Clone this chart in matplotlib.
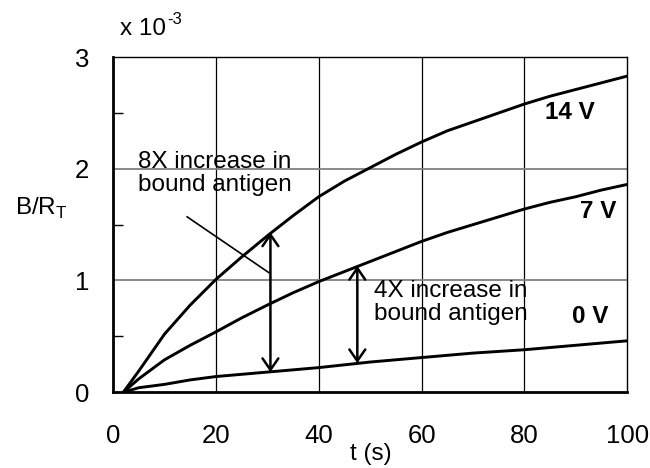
import matplotlib
matplotlib.use("Agg")
import matplotlib.pyplot as plt
from matplotlib.ticker import MultipleLocator

plt.rcParams['font.family'] = ['Liberation Sans', 'DejaVu Sans']

# values (B/R_T in units of 1e-3)
t = [2, 5, 10, 15, 20, 25, 30, 35, 40, 45, 50, 55, 60, 65, 70, 75, 80, 85, 90, 95, 100]
b_14v = [0, 0.19, 0.52, 0.78, 1.01, 1.21, 1.40, 1.58, 1.75, 1.89, 2.01, 2.13, 2.24,
         2.34, 2.42, 2.50, 2.58, 2.65, 2.71, 2.77, 2.83]
b_7v = [0, 0.12, 0.29, 0.42, 0.54, 0.665, 0.78, 0.89, 0.99, 1.08, 1.17, 1.26, 1.35,
        1.43, 1.50, 1.57, 1.64, 1.70, 1.75, 1.81, 1.86]
b_0v = [0, 0.04, 0.07, 0.11, 0.14, 0.16, 0.18, 0.20, 0.22, 0.245, 0.27, 0.29, 0.31,
        0.33, 0.35, 0.365, 0.38, 0.40, 0.42, 0.44, 0.46]

x_ticks = [0, 20, 40, 60, 80, 100]
y_ticks = [0, 1, 2, 3]

fig = plt.figure(figsize=(6.5, 4.68), dpi=100)
ax = fig.add_axes([0.174, 0.162, 0.791, 0.716])

ax.set_xlim(0, 100)
ax.set_ylim(0, 3)
ax.set_xticks(x_ticks)
ax.set_yticks(y_ticks)
ax.yaxis.set_minor_locator(MultipleLocator(0.5))
ax.tick_params(axis='x', which='major', labelsize=18.5, length=0, pad=23)
ax.tick_params(axis='y', which='major', labelsize=18.5, length=0, pad=17)
ax.tick_params(axis='y', which='minor', direction='in', length=7, width=1)

# grid: vertical black, horizontal gray
for xv in x_ticks[1:-1]:
    ax.axvline(xv, color='black', lw=0.9, zorder=1)
for yv in y_ticks[1:-1]:
    ax.axhline(yv, color='#808080', lw=1.3, zorder=1)

for s in ['left', 'bottom']:
    ax.spines[s].set_linewidth(2)
for s in ['top', 'right']:
    ax.spines[s].set_linewidth(1)

ax.plot(t, b_14v, color='black', lw=2.1, zorder=3)
ax.plot(t, b_7v, color='black', lw=2.1, zorder=3)
ax.plot(t, b_0v, color='black', lw=2.1, zorder=3)

ax.text(88.8, 2.50, '14 V', fontsize=17.5, fontweight='bold', ha='center', va='center')
ax.text(94.4, 1.62, '7 V', fontsize=17.5, fontweight='bold', ha='center', va='center')
ax.text(92.7, 0.68, '0 V', fontsize=17.5, fontweight='bold', ha='center', va='center')

# double-headed arrows between curves
arrow = dict(arrowstyle='<->,head_length=0.55,head_width=0.38', color='black',
             lw=1.8, mutation_scale=15, shrinkA=0, shrinkB=0)
ax.annotate('', xy=(30.6, 1.43), xytext=(30.6, 0.18), arrowprops=arrow)
ax.annotate('', xy=(47.5, 1.13), xytext=(47.5, 0.26), arrowprops=arrow)

ax.text(4.9, 1.96, '8X increase in\nbound antigen', fontsize=17.5,
        ha='left', va='center', linespacing=1.05)
ax.plot([14.4, 30.3], [1.57, 1.07], color='black', lw=1.2, zorder=3)
ax.text(50.7, 0.80, '4X increase in\nbound antigen', fontsize=17.5,
        ha='left', va='center', linespacing=1.05)

fig.text(0.023, 0.541, r'B/R$_\mathregular{T}$', fontsize=17.5, ha='left', va='baseline')
fig.text(0.185, 0.925, 'x 10', fontsize=17.5, ha='left', va='baseline')
fig.text(0.257, 0.948, '-3', fontsize=12, ha='left', va='baseline')
fig.text(0.538, 0.017, 't (s)', fontsize=17.5, ha='left', va='baseline')

fig.savefig('out.png', dpi=100)
